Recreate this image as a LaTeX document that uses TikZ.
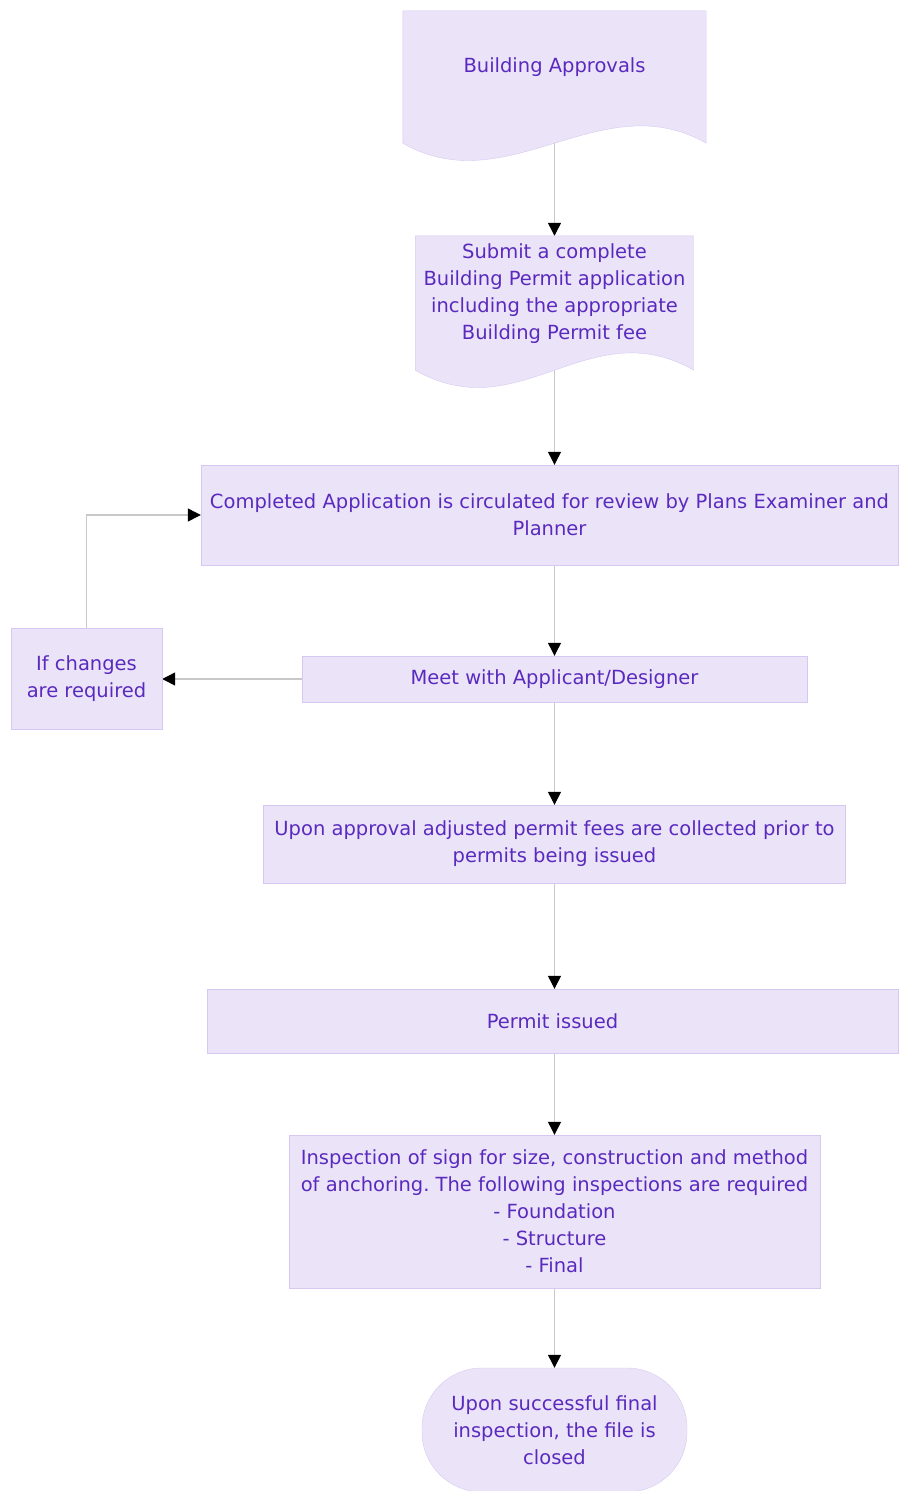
\documentclass[tikz,border=0pt]{standalone}
\usepackage{fontspec}
\setmainfont{DejaVu Sans}
\frenchspacing
\usetikzlibrary{arrows.meta,backgrounds,calc}
\definecolor{boxfill}{RGB}{235,228,248}
\definecolor{boxline}{RGB}{214,200,240}
\definecolor{boxtext}{RGB}{90,42,190}
\definecolor{conn}{RGB}{200,200,200}
\newcommand{\wavebottom}[2]{%
  \filldraw[fill=boxfill,draw=boxline] (#1.north west) -- (#1.north east) -- ($(#1.south east)+(0,#2)$)
    .. controls +(-105,-60) and +(105,60) .. ($(#1.south west)+(0,#2)$) -- cycle;}
\begin{document}
\begin{tikzpicture}[x=1pt,y=-1pt,
    box/.style={rectangle,fill=boxfill,draw=boxline,text=boxtext,align=center,
      inner sep=0pt,font=\fontsize{19.5}{27}\selectfont},
    doc/.style={box,fill=none,draw=none},
    conn/.style={draw=conn,line width=1.2pt,-{Triangle[length=13pt,width=13pt,black]}}]
  \useasboundingbox (0,0) rectangle (899,1491);
  \node[doc,minimum width=303,minimum height=112] (start) at (554.5,67) {Building Approvals};
  \node[doc,minimum width=278,minimum height=115] (submit) at (554.5,293.5)
    {Submit a complete\\Building Permit application\\including the appropriate\\Building Permit fee};
  \node[box,minimum width=697,minimum height=100] (review) at (549.5,515)
    {Completed Application is circulated for review by Plans Examiner and\\Planner};
  \node[box,minimum width=505,minimum height=46] (meet) at (554.5,679) {Meet with Applicant/Designer};
  \node[box,minimum width=151,minimum height=101] (changes) at (86.5,679) {If changes\\are required};
  \node[box,minimum width=582,minimum height=78] (fees) at (554.5,844)
    {Upon approval adjusted permit fees are collected prior to\\permits being issued};
  \node[box,minimum width=691,minimum height=64] (issued) at (552.5,1021) {Permit issued};
  \node[box,minimum width=531,minimum height=153] (inspect) at (554.5,1211.5)
    {Inspection of sign for size, construction and method\\of anchoring. The following inspections are required\\- Foundation\\- Structure\\- Final};
  \node[box,minimum width=265,minimum height=124,rounded corners=60pt] (closed) at (554.5,1430)
    {Upon successful final\\inspection, the file is\\closed};
  \begin{scope}[on background layer]
    \draw[conn] (start.south) -- (submit.north);
    \draw[conn] (submit.south) -- (submit.south |- review.north);
    \draw[conn] (meet.north |- review.south) -- (meet.north);
    \draw[conn] (meet.south) -- (fees.north);
    \draw[conn] (fees.south) -- (fees.south |- issued.north);
    \draw[conn] (inspect.north |- issued.south) -- (inspect.north);
    \draw[conn] (inspect.south) -- (closed.north);
    \draw[conn] (meet.west) -- (changes.east);
    \draw[conn] (changes.north) |- (review.west);
    \wavebottom{start}{20}
    \wavebottom{submit}{19}
  \end{scope}
\end{tikzpicture}
\end{document}
